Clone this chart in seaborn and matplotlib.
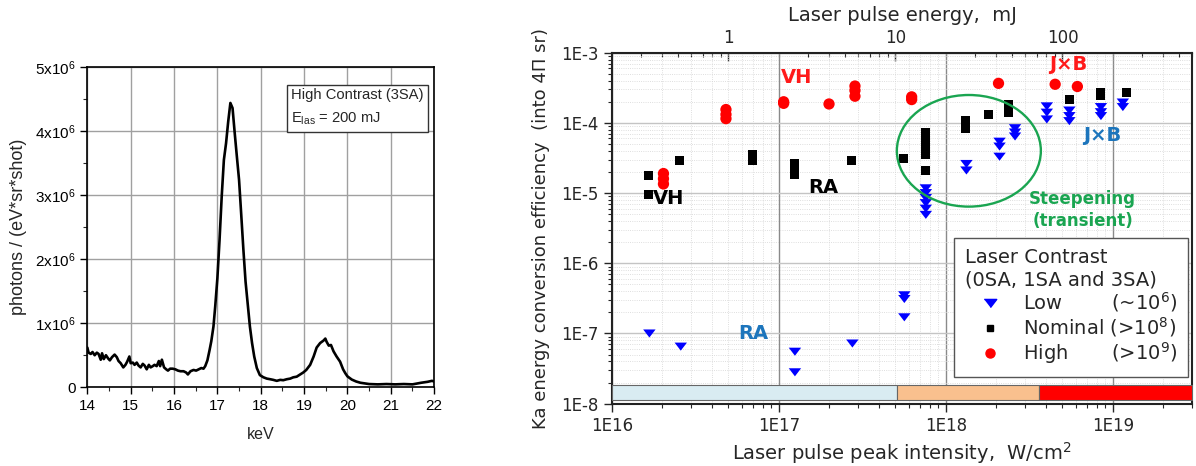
import numpy as np
import pandas as pd
import matplotlib
matplotlib.use("Agg")
import matplotlib.pyplot as plt
import matplotlib.ticker as mticker
from matplotlib.lines import Line2D
from matplotlib.patches import Ellipse
import seaborn as sns

# ---- left panel: Ka spectrum, high contrast (3SA), 200 mJ ----
kev = [14.00, 14.03, 14.08, 14.12, 14.17, 14.22, 14.26, 14.31, 14.34, 14.38,
       14.43, 14.48, 14.52, 14.57, 14.63, 14.68, 14.72, 14.77, 14.83, 14.88,
       14.92, 14.97, 15.00, 15.05, 15.09, 15.14, 15.18, 15.23, 15.28, 15.32,
       15.37, 15.42, 15.46, 15.51, 15.55, 15.60, 15.65, 15.68, 15.72, 15.77,
       15.82, 15.86, 15.91, 15.97, 16.03, 16.09, 16.15, 16.22, 16.28, 16.32,
       16.38, 16.45, 16.51, 16.57, 16.63, 16.68, 16.72, 16.77, 16.82, 16.86,
       16.91, 16.95, 17.00, 17.05, 17.10, 17.15, 17.20, 17.25, 17.30, 17.35,
       17.40, 17.45, 17.50, 17.55, 17.60, 17.65, 17.70, 17.75, 17.80, 17.85,
       17.91, 17.98, 18.06, 18.14, 18.22, 18.29, 18.37, 18.45, 18.52, 18.60,
       18.68, 18.75, 18.83, 18.91, 18.98, 19.05, 19.14, 19.22, 19.29, 19.37,
       19.45, 19.49, 19.52, 19.57, 19.62, 19.68, 19.75, 19.83, 19.90, 19.95,
       20.00, 20.10, 20.20, 20.30, 20.40, 20.50, 20.70, 20.90, 21.10, 21.30,
       21.50, 21.70, 21.85, 21.95, 22.00]
photons_1e6 = [0.62, 0.54, 0.52, 0.55, 0.50, 0.54, 0.52, 0.43, 0.53, 0.44,
               0.50, 0.45, 0.42, 0.47, 0.51, 0.47, 0.41, 0.375, 0.31, 0.35,
               0.40, 0.48, 0.375, 0.385, 0.35, 0.385, 0.34, 0.31, 0.365, 0.34,
               0.28, 0.35, 0.31, 0.33, 0.35, 0.33, 0.41, 0.33, 0.43, 0.31,
               0.28, 0.26, 0.29, 0.29, 0.28, 0.26, 0.25, 0.25, 0.23, 0.20,
               0.25, 0.27, 0.26, 0.28, 0.30, 0.29, 0.33, 0.42, 0.58, 0.72,
               0.95, 1.26, 1.70, 2.30, 2.98, 3.55, 3.81, 4.15, 4.44, 4.36,
               3.97, 3.60, 3.24, 2.70, 2.15, 1.65, 1.30, 0.95, 0.69, 0.48,
               0.30, 0.19, 0.156, 0.135, 0.125, 0.115, 0.10, 0.115, 0.11, 0.125,
               0.135, 0.155, 0.165, 0.20, 0.23, 0.27, 0.35, 0.48, 0.62, 0.69,
               0.73, 0.76, 0.71, 0.65, 0.66, 0.56, 0.48, 0.40, 0.28, 0.22,
               0.17, 0.12, 0.09, 0.07, 0.06, 0.05, 0.045, 0.05, 0.045, 0.05,
               0.045, 0.07, 0.085, 0.10, 0.09]

# ---- right panel: conversion efficiency vs peak intensity ----
low_int = [1.68e16, 2.59e16, 1.25e17, 1.25e17, 2.76e17, 5.65e17, 5.65e17, 5.65e17,
           7.6e17, 7.6e17, 7.6e17, 7.6e17, 7.6e17, 7.6e17,
           1.33e18, 1.33e18, 2.1e18, 2.1e18, 2.1e18, 2.6e18, 2.6e18, 2.6e18,
           4.03e18, 4.03e18, 4.03e18, 5.5e18, 5.5e18, 5.5e18,
           8.5e18, 8.5e18, 8.5e18, 1.15e19, 1.15e19]
low_ce = [1.0e-7, 6.5e-8, 5.5e-8, 2.8e-8, 7.2e-8, 3.5e-7, 3.1e-7, 1.7e-7,
          1.17e-5, 1.0e-5, 8.5e-6, 7.2e-6, 6.0e-6, 4.9e-6,
          2.6e-5, 2.1e-5, 5.4e-5, 4.6e-5, 3.3e-5, 8.4e-5, 7.3e-5, 6.4e-5,
          1.72e-4, 1.4e-4, 1.12e-4, 1.5e-4, 1.25e-4, 1.06e-4,
          1.68e-4, 1.42e-4, 1.25e-4, 1.95e-4, 1.68e-4]

nom_int = [1.66e16, 1.66e16, 2.56e16, 6.95e16, 6.95e16, 6.95e16,
           1.24e17, 1.24e17, 1.24e17, 2.71e17, 5.62e17,
           7.52e17, 7.52e17, 7.52e17, 7.52e17, 7.52e17, 7.52e17,
           1.32e18, 1.32e18, 1.32e18, 1.80e18, 2.39e18, 2.39e18, 2.39e18,
           5.48e18, 8.4e18, 8.4e18, 1.21e19]
nom_ce = [1.81e-5, 9.4e-6, 2.96e-5, 3.5e-5, 3.15e-5, 2.9e-5,
          2.6e-5, 2.2e-5, 1.85e-5, 2.87e-5, 3.13e-5,
          7.4e-5, 6.2e-5, 5.2e-5, 4.3e-5, 3.6e-5, 2.08e-5,
          1.08e-4, 9.4e-5, 8.2e-5, 1.3e-4, 1.85e-4, 1.6e-4, 1.42e-4,
          2.17e-4, 2.75e-4, 2.45e-4, 2.69e-4]

high_int = [2.04e16, 2.04e16, 2.04e16, 4.83e16, 4.83e16, 4.83e16,
            1.07e17, 1.07e17, 2.0e17, 2.86e17, 2.86e17, 2.86e17,
            6.25e17, 6.25e17, 2.07e18, 4.52e18, 6.14e18]
high_ce = [1.9e-5, 1.6e-5, 1.35e-5, 1.55e-4, 1.32e-4, 1.15e-4,
           2.0e-4, 1.9e-4, 1.86e-4, 3.35e-4, 2.9e-4, 2.4e-4,
           2.35e-4, 2.15e-4, 3.66e-4, 3.55e-4, 3.3e-4]

# interaction regime bar along the bottom
regime_edges = [1e16, 5.1e17, 3.6e18, 3e19]
regime_colors = ["#d9ecf2", "#f9c08e", "#ff0000"]

sns.set_style("ticks")
plt.rcParams["font.family"] = ["DejaVu Sans"]
plt.rcParams["mathtext.default"] = "regular"
arial = "Liberation Sans"

fig = plt.figure(figsize=(11.96, 4.66), dpi=100)
ax1 = fig.add_axes([0.073, 0.169, 0.290, 0.687])
ax2 = fig.add_axes([0.5115, 0.1337, 0.4855, 0.7532])

# ---------- left panel ----------
spec = pd.DataFrame({"keV": kev, "photons": np.array(photons_1e6) * 1e6})
sns.lineplot(data=spec, x="keV", y="photons", ax=ax1, color="black", lw=1.9)
ax1.set_xlim(14, 22)
ax1.set_ylim(0, 5e6)
ax1.set_xticks(range(14, 23))
ax1.set_yticks([0, 1e6, 2e6, 3e6, 4e6, 5e6])
ax1.set_yticklabels(["0"] + [f"{i}x10$^{6}$" for i in range(1, 6)])
ax1.xaxis.set_minor_locator(mticker.MultipleLocator(0.5))
ax1.yaxis.set_minor_locator(mticker.MultipleLocator(0.5e6))
ax1.tick_params(which="major", direction="out", length=5, width=1,
                labelsize=11, labelfontfamily=arial, colors="black")
ax1.tick_params(which="minor", direction="out", length=3, width=0.8)
ax1.grid(True, which="major", color="#a0a0a0", lw=1)
ax1.set_axisbelow(True)
for s in ax1.spines.values():
    s.set_color("black")
    s.set_linewidth(1.2)
ax1.set_xlabel("keV", fontsize=11.5, family=arial, labelpad=10)
ax1.set_ylabel("photons / (eV*sr*shot)", fontsize=13, family=arial, labelpad=6)
ax1.text(0.588, 0.935, "High Contrast (3SA)\nE$_{las}$ = 200 mJ", transform=ax1.transAxes,
         ha="left", va="top", fontsize=10.6, family=arial, linespacing=1.75,
         bbox=dict(boxstyle="square,pad=0.3", fc="white", ec="#333333", lw=1))

# ---------- right panel ----------
pts = pd.DataFrame({
    "intensity": low_int + nom_int + high_int,
    "ce": low_ce + nom_ce + high_ce,
    "contrast": ["Low"] * len(low_int) + ["Nominal"] * len(nom_int) + ["High"] * len(high_int),
})
tri = np.array([[-1.0, 0.65], [1.0, 0.65], [0.0, -0.65]])
palette = {"Low": "#0000ff", "Nominal": "#000000", "High": "#ff0000"}
markers = {"Low": tri, "Nominal": "s", "High": "o"}
sizes = {"Low": 80, "Nominal": 42, "High": 66}
sns.scatterplot(data=pts, x="intensity", y="ce", hue="contrast", style="contrast",
                size="contrast", palette=palette, markers=markers, sizes=sizes,
                linewidth=0, ax=ax2, legend=False, zorder=4)

ax2.set_xscale("log")
ax2.set_yscale("log")
ax2.set_xlim(1e16, 3e19)
ax2.set_ylim(1e-8, 1e-3)
dec_fmt = mticker.FuncFormatter(lambda v, p: f"1E{int(round(np.log10(v)))}")
for axis in (ax2.xaxis, ax2.yaxis):
    axis.set_major_locator(mticker.LogLocator(base=10))
    axis.set_minor_locator(mticker.LogLocator(base=10, subs=np.arange(2, 10)))
    axis.set_major_formatter(dec_fmt)
    axis.set_minor_formatter(mticker.NullFormatter())
ax2.tick_params(which="major", direction="out", length=6, width=1, labelsize=12)
ax2.tick_params(which="minor", direction="out", length=3, width=0.8)
ax2.grid(True, which="minor", color="#d4d4d4", lw=0.6, ls=":")
ax2.grid(True, which="major", axis="y", color="#c4c4c4", lw=1)
ax2.grid(True, which="major", axis="x", color="#8a8a8a", lw=1)
ax2.set_axisbelow(True)
for s in ax2.spines.values():
    s.set_color("#222222")
    s.set_linewidth(1.5)
ax2.set_xlabel("Laser pulse peak intensity,  W/cm$^2$", fontsize=14, labelpad=4)
ax2.set_ylabel("Ka energy conversion efficiency  (into 4\u03a0 sr)", fontsize=13, labelpad=8)

# top axis: pulse energy (mJ)
secax = ax2.secondary_xaxis("top", functions=(lambda x: x / 5e16, lambda x: x * 5e16))
secax.set_xticks([1, 10, 100])
secax.set_xticklabels(["1", "10", "100"])
secax.xaxis.set_minor_locator(mticker.LogLocator(base=10, subs=np.arange(2, 10)))
secax.xaxis.set_minor_formatter(mticker.NullFormatter())
secax.tick_params(which="major", direction="in", length=6, width=1, labelsize=12, pad=4)
secax.tick_params(which="minor", direction="in", length=3, width=0.8)
secax.set_xlabel("Laser pulse energy,  mJ", fontsize=14, labelpad=6)

# regime bar
for lo, hi, c in zip(regime_edges[:-1], regime_edges[1:], regime_colors):
    ax2.fill_between([lo, hi], 1.12e-8, 1.85e-8, color=c, ec="#666666", lw=0.8, zorder=3)

# annotations
ax2.text(1.28e17, 4.4e-4, "VH", color="#ff1a1a", fontsize=14, weight="bold", ha="center", va="center")
ax2.text(2.2e16, 8.3e-6, "VH", color="black", fontsize=14, weight="bold", ha="center", va="center")
ax2.text(1.84e17, 1.2e-5, "RA", color="black", fontsize=14, weight="bold", ha="center", va="center")
ax2.text(7.0e16, 1.0e-7, "RA", color="#1c75bc", fontsize=14, weight="bold", ha="center", va="center")
ax2.text(5.4e18, 6.7e-4, "J\u00d7B", color="#ff1a1a", fontsize=14, weight="bold", ha="center", va="center")
ax2.text(8.6e18, 6.7e-5, "J\u00d7B", color="#1c75bc", fontsize=14, weight="bold", ha="center", va="center")
ax2.text(6.6e18, 5.7e-6, "Steepening\n(transient)", color="#1aa551", fontsize=12, weight="bold",
         ha="center", va="center", linespacing=1.3)
ax2.add_patch(Ellipse((0.615, 0.7205), 0.248, 0.318, transform=ax2.transAxes,
                      fill=False, ec="#1aa551", lw=1.7, zorder=5))

handles = [
    Line2D([], [], ls="none", marker=tri, color="#0000ff", markersize=9),
    Line2D([], [], ls="none", marker="s", color="black", markersize=5),
    Line2D([], [], ls="none", marker="o", color="#ff0000", markersize=6.5),
]
labels = ["Low        (~10$^6$)", "Nominal (>10$^8$)", "High       (>10$^9$)"]
leg = ax2.legend(handles, labels, title="Laser Contrast\n(0SA, 1SA and 3SA)",
                 loc="lower right", bbox_to_anchor=(0.993, 0.077), borderaxespad=0,
                 fontsize=14, title_fontsize=14, alignment="left", frameon=True,
                 fancybox=False, edgecolor="#555555", framealpha=1, borderpad=0.55,
                 handlelength=2.6, handletextpad=0.4, labelspacing=0.05)
leg.get_frame().set_linewidth(1)
leg.set_zorder(10)

fig.savefig("out.png", dpi=100)
